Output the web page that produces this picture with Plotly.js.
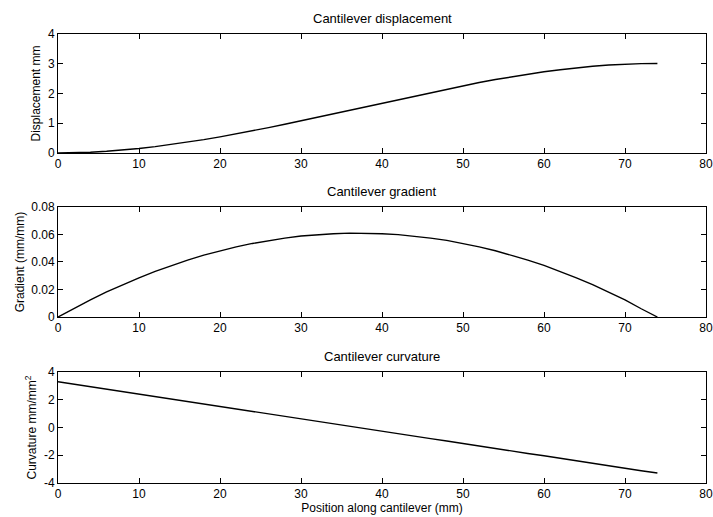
<!DOCTYPE html>
<html>
<head>
<meta charset="utf-8">
<script src="https://cdn.plot.ly/plotly-3.0.1.min.js"></script>
<style>html,body{margin:0;padding:0;background:#fff;}#chart{width:713px;height:517px;}</style>
</head>
<body>
<div id="chart"></div>
<script>
// Position along cantilever (mm)
const position = [0,2,4,6,8,10,12,14,16,18,20,22,24,26,28,30,32,34,36,38,40,42,44,46,48,50,52,54,56,58,60,62,64,66,68,70,72,74];
// Displacement (mm)
const displacement = [0,0.006,0.025,0.056,0.098,0.150,0.212,0.283,0.362,0.448,0.541,0.640,0.745,0.854,0.967,1.084,1.202,1.323,1.445,1.567,1.689,1.809,1.928,2.044,2.158,2.267,2.371,2.471,2.564,2.650,2.729,2.800,2.862,2.914,2.956,2.987,3.005,3.010];
// Gradient (mm/mm)
const gradient = [0,0.0064,0.0125,0.0182,0.0235,0.0285,0.0332,0.0375,0.0414,0.0450,0.0482,0.0510,0.0535,0.0557,0.0574,0.0589,0.0599,0.0606,0.0610,0.0610,0.0606,0.0599,0.0589,0.0574,0.0557,0.0535,0.0510,0.0482,0.0450,0.0414,0.0375,0.0332,0.0285,0.0235,0.0182,0.0125,0.0060,0];
// Curvature (mm/mm^2)
const curvature = [3.30,3.12,2.94,2.78,2.59,2.41,2.25,2.05,1.87,1.70,1.52,1.34,1.17,0.98,0.80,0.63,0.45,0.27,0.10,-0.09,-0.27,-0.44,-0.62,-0.80,-0.97,-1.16,-1.34,-1.51,-1.69,-1.87,-2.04,-2.23,-2.41,-2.58,-2.76,-2.94,-3.12,-3.28];

const titles = ["Cantilever displacement","Cantilever gradient","Cantilever curvature"];
const xTicks = [0,10,20,30,40,50,60,70,80];
const curvTickVals = [-4,-2,0,2,4];
const curvTickText = ["-4","-2","0","2","4"];

const FONT = "Liberation Sans, Arial, sans-serif";
const lineStyle = {color:"#000", width:1.4};
const traces = [
  {x: position, y: displacement, type:"scatter", mode:"lines", line: lineStyle, xaxis:"x", yaxis:"y"},
  {x: position, y: gradient, type:"scatter", mode:"lines", line: lineStyle, xaxis:"x2", yaxis:"y2"},
  {x: position, y: curvature, type:"scatter", mode:"lines", line: lineStyle, xaxis:"x3", yaxis:"y3"}
];

function xax(anchor, title){
  const a = {anchor: anchor, domain:[0,1], range:[0,80], tickvals:xTicks, ticks:"inside", ticklen:5,
    showline:true, mirror:"ticks", linecolor:"#000", linewidth:1, tickcolor:"#000", showgrid:false, zeroline:false,
    tickfont:{family:FONT,size:12,color:"#000"}, fixedrange:true};
  if(title) a.title = {text:title, font:{family:FONT,size:12,color:"#000"}, standoff:2};
  return a;
}
function yax(anchor, domain, range, dtick, title, standoff, extra){
  const a = {anchor: anchor, domain: domain, range: range, dtick: dtick, tick0:0, ticks:"inside", ticklen:5,
    showline:true, mirror:"ticks", linecolor:"#000", linewidth:1, tickcolor:"#000", showgrid:false, zeroline:false,
    tickfont:{family:FONT,size:12,color:"#000"}, fixedrange:true,
    title:{text:title, font:{family:FONT,size:12,color:"#000"}, standoff: standoff}};
  return Object.assign(a, extra||{});
}

const d1 = [0.735,1], d2 = [0.3697,0.6147], d3 = [0,0.2472];
const layout = {
  width:713, height:517,
  margin:{l:58, r:7, t:34, b:34},
  paper_bgcolor:"#fff", plot_bgcolor:"#fff",
  showlegend:false,
  font:{family:FONT, size:12, color:"#000"},
  xaxis: xax("y"),
  yaxis: yax("x", d1, [0,4], 1, "Displacement mm", 4),
  xaxis2: xax("y2"),
  yaxis2: yax("x2", d2, [0,0.08], 0.02, "Gradient (mm/mm)", 4),
  xaxis3: xax("y3", "Position along cantilever (mm)"),
  yaxis3: yax("x3", d3, [-4,4], 2, "Curvature mm/mm<sup>2</sup>", 4, {tickvals:curvTickVals, ticktext:curvTickText}),
  annotations: [
    {text:titles[0], xref:"paper", yref:"paper", x:0.5, y:d1[1], xanchor:"center", yanchor:"bottom", yshift:6, showarrow:false, font:{family:FONT,size:13,color:"#000"}},
    {text:titles[1], xref:"paper", yref:"paper", x:0.5, y:d2[1], xanchor:"center", yanchor:"bottom", yshift:6, showarrow:false, font:{family:FONT,size:13,color:"#000"}},
    {text:titles[2], xref:"paper", yref:"paper", x:0.5, y:d3[1], xanchor:"center", yanchor:"bottom", yshift:6, showarrow:false, font:{family:FONT,size:13,color:"#000"}}
  ]
};
Plotly.newPlot("chart", traces, layout, {displayModeBar:false, staticPlot:true});
</script>
</body>
</html>
